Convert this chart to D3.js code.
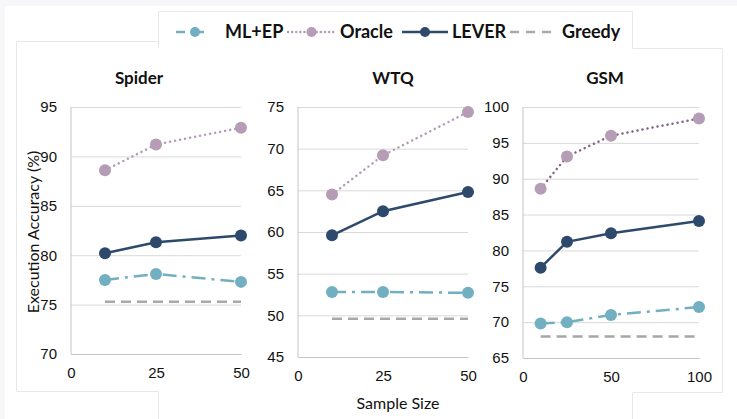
<!DOCTYPE html>
<html>
<head>
<meta charset="utf-8">
<script src="https://cdn.jsdelivr.net/npm/d3@7"></script>
<style>
  body { margin: 0; background: #f7f7f9; }
  svg { display: block; font-family: Lato, "Open Sans", sans-serif; }
</style>
</head>
<body>
<svg id="chart" width="737" height="419"></svg>
<script>
// sample sizes per dataset
var spiderX = [10, 25, 50],
    wtqX = [10, 25, 50],
    gsmX = [10, 25, 50, 100];

// execution accuracy (%)
var spiderOracle = [88.6, 91.2, 92.9],
    spiderLever  = [80.2, 81.3, 82.0],
    spiderMlep   = [77.5, 78.1, 77.3],
    spiderGreedy = 75.3;

var wtqOracle = [64.5, 69.2, 74.4],
    wtqLever  = [59.6, 62.5, 64.8],
    wtqMlep   = [52.8, 52.8, 52.7],
    wtqGreedy = 49.6;

var gsmOracle = [88.6, 93.1, 96.0, 98.4],
    gsmLever  = [77.6, 81.2, 82.4, 84.1],
    gsmMlep   = [69.8, 70.0, 71.0, 72.1],
    gsmGreedy = 68.0;

var spiderYTicks = [70, 75, 80, 85, 90, 95],
    wtqYTicks = [45, 50, 55, 60, 65, 70, 75],
    gsmYTicks = [65, 70, 75, 80, 85, 90, 95, 100],
    spiderXTicks = [0, 25, 50],
    wtqXTicks = [0, 25, 50],
    gsmXTicks = [0, 50, 100];

var seriesNames = ["ML+EP", "Oracle", "LEVER", "Greedy"];

var colors = {
  mlep: "#72afc0",
  oracle: "#b49db5",
  oracleLine: "#b49db5",
  lever: "#2d4a6c",
  greedy: "#a8a8a8"
};

var svg = d3.select('#chart');

// background frames (pasted-figure look)
svg.append('rect').attr('x', 5).attr('y', 6).attr('width', 732).attr('height', 413).attr('fill', '#fff');
var frame = svg.append('g').attr('fill', 'none').attr('stroke', '#e8e8ea').attr('stroke-width', 1);
frame.append('path').attr('d', 'M158.5,48 V11.5 H632.5 V48');
frame.append('path').attr('d', 'M158.5,41.5 H16.5 V391.5 H158.5 M632.5,48.5 H722.5 V392.5 H632.5');
frame.append('path').attr('d', 'M158.5,391.5 V419 M632.5,392.5 V419');

var panels = [
  { title: "Spider", xs: spiderX, oracle: spiderOracle, lever: spiderLever, mlep: spiderMlep, greedy: spiderGreedy,
    xd: [0, 50], xr: [71, 241], yd: [70, 95], yr: [354, 107], yt: spiderYTicks, xt: spiderXTicks, tx: 139, oracleLine: colors.oracleLine },
  { title: "WTQ", xs: wtqX, oracle: wtqOracle, lever: wtqLever, mlep: wtqMlep, greedy: wtqGreedy,
    xd: [0, 50], xr: [298, 468], yd: [45, 75], yr: [357, 107], yt: wtqYTicks, xt: wtqXTicks, tx: 393, oracleLine: colors.oracleLine },
  { title: "GSM", xs: gsmX, oracle: gsmOracle, lever: gsmLever, mlep: gsmMlep, greedy: gsmGreedy,
    xd: [0, 100], xr: [523, 699], yd: [65, 100], yr: [358, 107], yt: gsmYTicks, xt: gsmXTicks, tx: 605, oracleLine: "#866486" }
];

panels.forEach(function(p) {
  var x = d3.scaleLinear().domain(p.xd).range(p.xr),
      y = d3.scaleLinear().domain(p.yd).range(p.yr),
      g = svg.append('g');

  var w = p.xr[1] - p.xr[0];

  // y axis with gridlines
  var ya = g.append('g').attr('transform', 'translate(' + p.xr[0] + ',0)')
    .call(d3.axisLeft(y).tickValues(p.yt).tickSize(-w).tickPadding(14));
  ya.select('.domain').remove();
  ya.selectAll('.tick line').attr('stroke', '#d9d9d9');
  ya.selectAll('.tick text').attr('font-size', 15).attr('fill', '#111');

  // x axis
  var xa = g.append('g').attr('transform', 'translate(0,' + p.yr[0] + ')')
    .call(d3.axisBottom(x).tickValues(p.xt).tickSize(0).tickPadding(13));
  xa.select('.domain').attr('stroke', '#c4c4c4');
  xa.selectAll('.tick text').attr('font-size', 15).attr('fill', '#111');

  g.append('line').attr('x1', p.xr[0]).attr('x2', p.xr[0]).attr('y1', p.yr[1]).attr('y2', p.yr[0])
    .attr('stroke', '#c4c4c4');

  g.append('text').attr('x', p.tx).attr('y', 84).attr('text-anchor', 'middle')
    .attr('font-size', 17).attr('font-weight', 'bold').attr('fill', '#111').text(p.title);

  // greedy baseline
  g.append('line')
    .attr('x1', x(p.xs[0])).attr('x2', x(p.xs[p.xs.length - 1]))
    .attr('y1', y(p.greedy)).attr('y2', y(p.greedy))
    .attr('stroke', colors.greedy).attr('stroke-width', 2.5).attr('stroke-dasharray', '10,6');

  var line = function(vals) {
    return d3.line().x(function(d, i) { return x(p.xs[i]); }).y(function(d) { return y(d); })(vals);
  };

  var series = [
    { vals: p.mlep, stroke: colors.mlep, fill: colors.mlep, dash: '14,6,3,6', cap: 'butt' },
    { vals: p.oracle, stroke: p.oracleLine, fill: colors.oracle, dash: '0.1,5', cap: 'round' },
    { vals: p.lever, stroke: colors.lever, fill: colors.lever, dash: null, cap: 'butt' }
  ];

  series.forEach(function(s) {
    g.append('path').attr('d', line(s.vals)).attr('fill', 'none')
      .attr('stroke', s.stroke).attr('stroke-width', 2.5)
      .attr('stroke-linecap', s.cap)
      .attr('stroke-dasharray', s.dash);
    g.selectAll(null).data(s.vals).enter().append('circle')
      .attr('cx', function(d, i) { return x(p.xs[i]); })
      .attr('cy', function(d) { return y(d); })
      .attr('r', 6).attr('fill', s.fill);
  });
});

// axis titles
svg.append('text').attr('transform', 'translate(39,232) rotate(-90)').attr('text-anchor', 'middle')
  .attr('font-size', 16).attr('fill', '#111').text('Execution Accuracy (%)');
svg.append('text').attr('x', 398).attr('y', 409).attr('text-anchor', 'middle')
  .attr('font-size', 16).attr('fill', '#111').text('Sample Size');

// legend
var legend = svg.append('g');
var legendItems = [
  { name: seriesNames[0], x0: 176, x1: 214, tx: 225, stroke: colors.mlep, dash: '9,10', cap: 'butt', marker: true },
  { name: seriesNames[1], x0: 288, x1: 335, tx: 340, stroke: colors.oracle, dash: '0.1,4', cap: 'round', marker: true },
  { name: seriesNames[2], x0: 402, x1: 448, tx: 452, stroke: colors.lever, dash: null, cap: 'butt', marker: true },
  { name: seriesNames[3], x0: 510, x1: 557, tx: 562, stroke: colors.greedy, dash: '9,7', cap: 'butt', marker: false }
];
legendItems.forEach(function(it) {
  legend.append('line').attr('x1', it.x0).attr('x2', it.x1).attr('y1', 32).attr('y2', 32)
    .attr('stroke', it.stroke).attr('stroke-width', 2.5)
    .attr('stroke-linecap', it.cap).attr('stroke-dasharray', it.dash);
  if (it.marker) {
    legend.append('circle').attr('cx', (it.x0 + it.x1) / 2).attr('cy', 32).attr('r', 5).attr('fill', it.stroke);
  }
  legend.append('text').attr('x', it.tx).attr('y', 38).attr('font-size', 18).attr('font-weight', 'bold')
    .attr('fill', '#111').text(it.name);
});
</script>
</body>
</html>
